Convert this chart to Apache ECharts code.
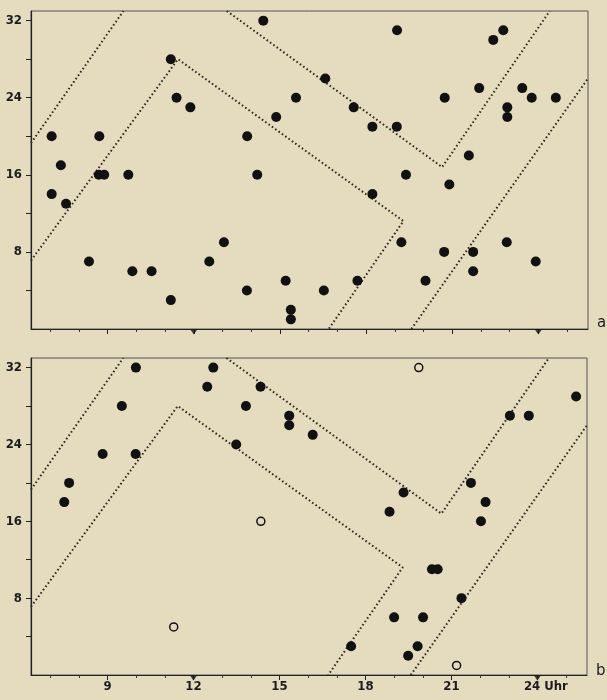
<!DOCTYPE html>
<html>
<head>
<meta charset="utf-8">
<script src="https://cdn.jsdelivr.net/npm/echarts@6/dist/echarts.min.js"></script>
<style>
  html, body { margin: 0; padding: 0; background: #e5dbbe; }
  #main { width: 607px; height: 700px; }
</style>
</head>
<body>
<div id="main"></div>
<script>
// values: x = hour of day, y = count
var panelA = [[7.05,20],[7.37,17],[7.05,14],[7.55,13],[8.35,7],[8.71,20],[8.69,16],[8.88,16],[9.72,16],[9.86,6],
  [10.53,6],[11.2,28],[11.2,3],[11.4,24],[11.88,23],[12.54,7],[13.05,9],[13.86,20],[14.21,16],[13.85,4],
  [14.42,32],[14.87,22],[15.2,5],[15.38,2],[15.38,1],[15.56,24],[19.08,31],[16.58,26],[17.57,23],[18.22,21],
  [19.07,21],[20.74,24],[21.94,25],[22.43,30],[22.78,31],[23.44,25],[23.77,24],[24.61,24],[22.92,23],[22.92,22],
  [21.58,18],[19.39,16],[20.9,15],[18.22,14],[19.23,9],[20.72,8],[21.73,8],[22.9,9],[21.73,6],[23.91,7],
  [20.07,5],[17.7,5],[16.53,4]];
var panelBFilled = [[7.49,18],[7.66,20],[8.83,23],[9.5,28],[9.99,32],[9.98,23],[12.48,30],[12.69,32],[13.49,24],[13.83,28],
  [14.34,30],[15.34,27],[15.34,26],[16.16,25],[25.35,29],[23.04,27],[23.7,27],[21.68,20],[22.19,18],[22.03,16],
  [19.33,19],[18.84,17],[20.32,11],[20.52,11],[21.35,8],[19.0,6],[20.01,6],[17.5,3],[19.82,3],[19.49,2]];
var panelBOpen = [[11.31,5],[14.35,16],[19.86,32],[21.18,1]];

// dotted band boundaries (same in both panels)
var bandUpperLeft = [[6.33,19.3],[9.55,33]];
var bandLowerLeft = [[6.33,7.1],[11.45,28],[19.3,11.2],[16.7,0]];
var bandUpperRight = [[13.15,33],[20.65,16.8],[24.4,33]];
var bandLowerRight = [[19.58,0],[25.73,26]];

var xLabels = [9, 12, 15, 18, 21, 24];
var xMinor = [7, 8, 10, 11, 13, 14, 16, 17, 19, 20, 22, 23, 25];
var yLabels = [8, 16, 24, 32];
var yTicks = [4, 8, 12, 16, 20, 24, 28, 32];
var axisMarks = [12, 24];

var bg = '#e5dbbe';
var ink = '#1c1c1c';
var font = '"Liberation Sans Narrow", "DejaVu Sans Condensed", sans-serif';

var myChart = echarts.init(document.getElementById('main'));

function xAxisFor(gi, withLabels) {
    return {
        gridIndex: gi, type: 'value', min: 6.33, max: 25.73, position: 'bottom',
        splitLine: { show: false },
        axisLine: { show: true, onZero: false, lineStyle: { color: '#222', width: 1.2 } },
        axisTick: { show: true, customValues: xLabels, length: 5, lineStyle: { color: '#222' } },
        axisLabel: {
            show: withLabels, customValues: xLabels, margin: 5, color: ink,
            fontFamily: font, fontWeight: 'bold', fontSize: 13,
            formatter: function (v) { return v === 24 ? '{p|}{n|24 Uhr}' : '{n|' + v + '}'; },
            rich: {
                p: { width: 17 },
                n: { fontFamily: font, fontWeight: 'bold', fontSize: 13, color: ink }
            }
        }
    };
}
function minorAxisFor(gi) {
    return {
        gridIndex: gi, type: 'value', min: 6.33, max: 25.73, position: 'bottom', offset: 0,
        splitLine: { show: false },
        axisLine: { show: false },
        axisTick: { show: true, customValues: xMinor, length: 3, lineStyle: { color: '#333' } },
        axisLabel: { show: false }
    };
}
function yAxisFor(gi) {
    return {
        gridIndex: gi, type: 'value', min: 0, max: 33,
        splitLine: { show: false },
        axisLine: { show: true, onZero: false, lineStyle: { color: '#222', width: 1.2 } },
        axisTick: { show: true, customValues: yTicks, length: 5, lineStyle: { color: '#222' } },
        axisLabel: { customValues: yLabels, margin: 9, color: ink, fontFamily: font, fontWeight: 'bold', fontSize: 13 }
    };
}

function bandSeries(xi, yi, data) {
    return {
        type: 'line', xAxisIndex: xi, yAxisIndex: yi, data: data,
        showSymbol: false, silent: true, z: 1,
        lineStyle: { color: '#2e2a24', width: 2, type: [1.6, 2.5] }
    };
}
function dots(xi, yi, data) {
    return {
        type: 'scatter', xAxisIndex: xi, yAxisIndex: yi, data: data,
        symbolSize: 10, z: 3, itemStyle: { color: '#111', opacity: 1 }
    };
}
function marks(xi, yi) {
    return {
        type: 'scatter', xAxisIndex: xi, yAxisIndex: yi,
        data: axisMarks.map(function (v) { return [v, 0]; }),
        symbol: 'triangle', symbolRotate: 180, symbolSize: [7, 5], symbolOffset: [0, 3],
        clip: false, z: 5, itemStyle: { color: '#111' }
    };
}

var series = [];
[0, 1].forEach(function (i) {
    series.push(bandSeries(i, i, bandUpperLeft));
    series.push(bandSeries(i, i, bandLowerLeft));
    series.push(bandSeries(i, i, bandUpperRight));
    series.push(bandSeries(i, i, bandLowerRight));
    series.push(marks(i, i));
});
series.push(dots(0, 0, panelA));
series.push(dots(1, 1, panelBFilled));
series.push({
    type: 'scatter', xAxisIndex: 1, yAxisIndex: 1, data: panelBOpen,
    symbolSize: 8, z: 3, clip: false,
    itemStyle: { color: bg, borderColor: '#111', borderWidth: 1.5, opacity: 1 }
});

var option = {
    backgroundColor: bg,
    animation: false,
    grid: [
        { left: 31, top: 11, width: 557, height: 318, show: true, borderColor: '#555', borderWidth: 1 },
        { left: 31, top: 358, width: 556, height: 317, show: true, borderColor: '#555', borderWidth: 1 }
    ],
    xAxis: [xAxisFor(0, false), xAxisFor(1, true), minorAxisFor(0), minorAxisFor(1)],
    yAxis: [yAxisFor(0), yAxisFor(1)],
    graphic: [
        { type: 'text', left: 597, top: 316, style: { text: 'a', fontFamily: 'DejaVu Sans', fontSize: 15, fill: ink } },
        { type: 'text', left: 596, top: 664, style: { text: 'b', fontFamily: 'DejaVu Sans', fontSize: 15, fill: ink } }
    ],
    series: series
};

myChart.setOption(option);
</script>
</body>
</html>
